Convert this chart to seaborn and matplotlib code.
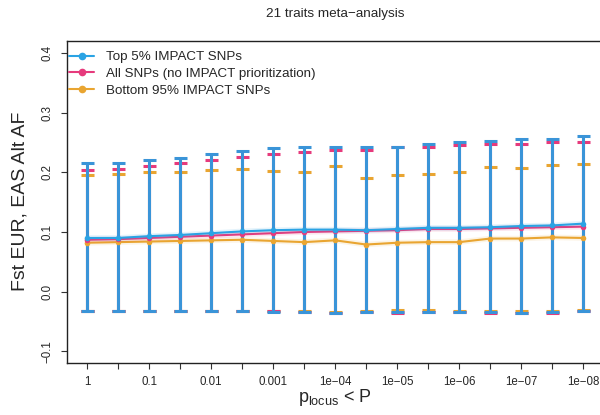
import numpy as np
import pandas as pd
import matplotlib
matplotlib.use("Agg")
import matplotlib.pyplot as plt
from matplotlib.lines import Line2D
import seaborn as sns

# ---- data ----
p_thresholds = ["1", "0.5", "0.1", "0.05", "0.01", "0.005", "0.001", "5e-04", "1e-04",
                "5e-05", "1e-05", "5e-06", "1e-06", "5e-07", "1e-07", "5e-08", "1e-08"]
tick_labels = ["1", "", "0.1", "", "0.01", "", "0.001", "", "1e\u221204",
               "", "1e\u221205", "", "1e\u221206", "", "1e\u221207", "", "1e\u221208"]

top_mean = [0.090, 0.090, 0.093, 0.095, 0.098, 0.101, 0.103, 0.104, 0.104,
            0.103, 0.105, 0.107, 0.107, 0.108, 0.110, 0.111, 0.114]
top_upper = [0.215, 0.216, 0.220, 0.224, 0.230, 0.235, 0.240, 0.243, 0.243,
             0.242, 0.243, 0.248, 0.250, 0.252, 0.255, 0.256, 0.260]
top_lower = [-0.033, -0.033, -0.033, -0.033, -0.033, -0.033, -0.034, -0.034, -0.035,
             -0.034, -0.034, -0.034, -0.034, -0.034, -0.035, -0.034, -0.033]

all_mean = [0.087, 0.088, 0.090, 0.092, 0.094, 0.096, 0.098, 0.100, 0.101,
            0.102, 0.103, 0.105, 0.105, 0.106, 0.107, 0.108, 0.109]
all_upper = [0.204, 0.206, 0.211, 0.216, 0.221, 0.225, 0.230, 0.234, 0.238,
             0.238, 0.242, 0.243, 0.245, 0.247, 0.248, 0.250, 0.251]
all_lower = [-0.032, -0.032, -0.033, -0.033, -0.033, -0.033, -0.033, -0.034, -0.036,
             -0.034, -0.035, -0.034, -0.034, -0.035, -0.036, -0.035, -0.032]

bottom_mean = [0.082, 0.083, 0.084, 0.085, 0.086, 0.087, 0.085, 0.083, 0.086,
               0.079, 0.082, 0.083, 0.083, 0.089, 0.089, 0.091, 0.090]
bottom_upper = [0.196, 0.198, 0.200, 0.201, 0.204, 0.206, 0.203, 0.201, 0.210,
                0.191, 0.196, 0.197, 0.201, 0.209, 0.208, 0.213, 0.214]
bottom_lower = [-0.032, -0.032, -0.032, -0.032, -0.033, -0.033, -0.033, -0.033, -0.034,
                -0.032, -0.031, -0.030, -0.033, -0.032, -0.032, -0.032, -0.031]

series_names = ["Top 5% IMPACT SNPs", "All SNPs (no IMPACT prioritization)",
                "Bottom 95% IMPACT SNPs"]

# ---- style ----
sns.set_style("white")
plt.rcParams["font.family"] = ["Liberation Sans", "DejaVu Sans"]

W, H = 600, 415
fig = plt.figure(figsize=(W / 100, H / 100), dpi=100)
x0, x1, ytop, ybot = 67.3, 603.0, 41.0, 363.3
ax = fig.add_axes([x0 / W, 1 - ybot / H, (x1 - x0) / W, (ybot - ytop) / H])

pos = np.arange(1, len(p_thresholds) + 1)
df = pd.DataFrame({
    "pos": np.tile(pos, 3),
    "series": np.repeat(series_names, len(pos)),
    "mean": top_mean + all_mean + bottom_mean,
    "upper": top_upper + all_upper + bottom_upper,
    "lower": top_lower + all_lower + bottom_lower,
})

line_cols = {series_names[0]: "#2aa3e4", series_names[1]: "#e63a7c", series_names[2]: "#e9a531"}
bar_cols = {series_names[0]: "#3a94d8", series_names[1]: "#e63a7c", series_names[2]: "#e9a531"}
draw_order = [series_names[2], series_names[1], series_names[0]]

cap_pt = 6.5 * 72 / 100
for k, s in enumerate(draw_order):
    d = df[df["series"] == s]
    ax.errorbar(d["pos"], d["mean"],
                yerr=[d["mean"] - d["lower"], d["upper"] - d["mean"]],
                fmt="none", ecolor=bar_cols[s], elinewidth=2.2, capsize=cap_pt,
                capthick=2.2, zorder=2 + k)

for k, s in enumerate(draw_order):
    d = df[df["series"] == s]
    sns.lineplot(data=d, x="pos", y="mean", color=line_cols[s], linewidth=4.0,
                 alpha=0.12, ax=ax, legend=False, zorder=6 + 2 * k)
    sns.lineplot(data=d, x="pos", y="mean", color=line_cols[s], linewidth=1.5,
                 marker="o", markersize=4, markeredgewidth=0, ax=ax, legend=False,
                 zorder=7 + 2 * k)

ax.set_xlim(0.36, 17.64)
ax.set_ylim(-0.12, 0.42)
ax.set_xticks(pos)
ax.set_xticklabels(tick_labels, fontsize=8.3)
ax.set_yticks([-0.1, 0.0, 0.1, 0.2, 0.3, 0.4])
ax.set_yticklabels(["\u22120.1", "0.0", "0.1", "0.2", "0.3", "0.4"], fontsize=8.3,
                   rotation=90, va="center")
ax.tick_params(axis="both", direction="out", length=4.3, width=0.8, color="#333333",
               bottom=True, left=True)
ax.tick_params(axis="x", pad=4.5)
ax.tick_params(axis="y", pad=5.5)
for sp in ax.spines.values():
    sp.set_color("#222222")
    sp.set_linewidth(1.0)

ax.set_xlabel("")
ax.set_ylabel("")
fig.text(335 / W, 1 - 397 / H, r"p$_{\mathregular{locus}}$ < P", ha="center",
         va="center", fontsize=13)
fig.text(20 / W, 1 - 201 / H, "Fst EUR, EAS Alt AF", ha="center", va="center",
         rotation=90, fontsize=14)
fig.text(335 / W, 1 - 14 / H, "21 traits meta\u2212analysis", ha="center",
         va="center", fontsize=9.7)

handles = [Line2D([0], [0], color=line_cols[s], lw=1.5, marker="o", markersize=5.5,
                  markeredgewidth=0) for s in series_names]
ax.legend(handles, series_names, loc="upper left", frameon=False, fontsize=9.6,
          handlelength=1.9, handletextpad=0.9, labelspacing=0.32, borderpad=0,
          borderaxespad=0, bbox_to_anchor=(69 / W, 1 - 51 / H),
          bbox_transform=fig.transFigure)

fig.savefig("out.png", dpi=100)
